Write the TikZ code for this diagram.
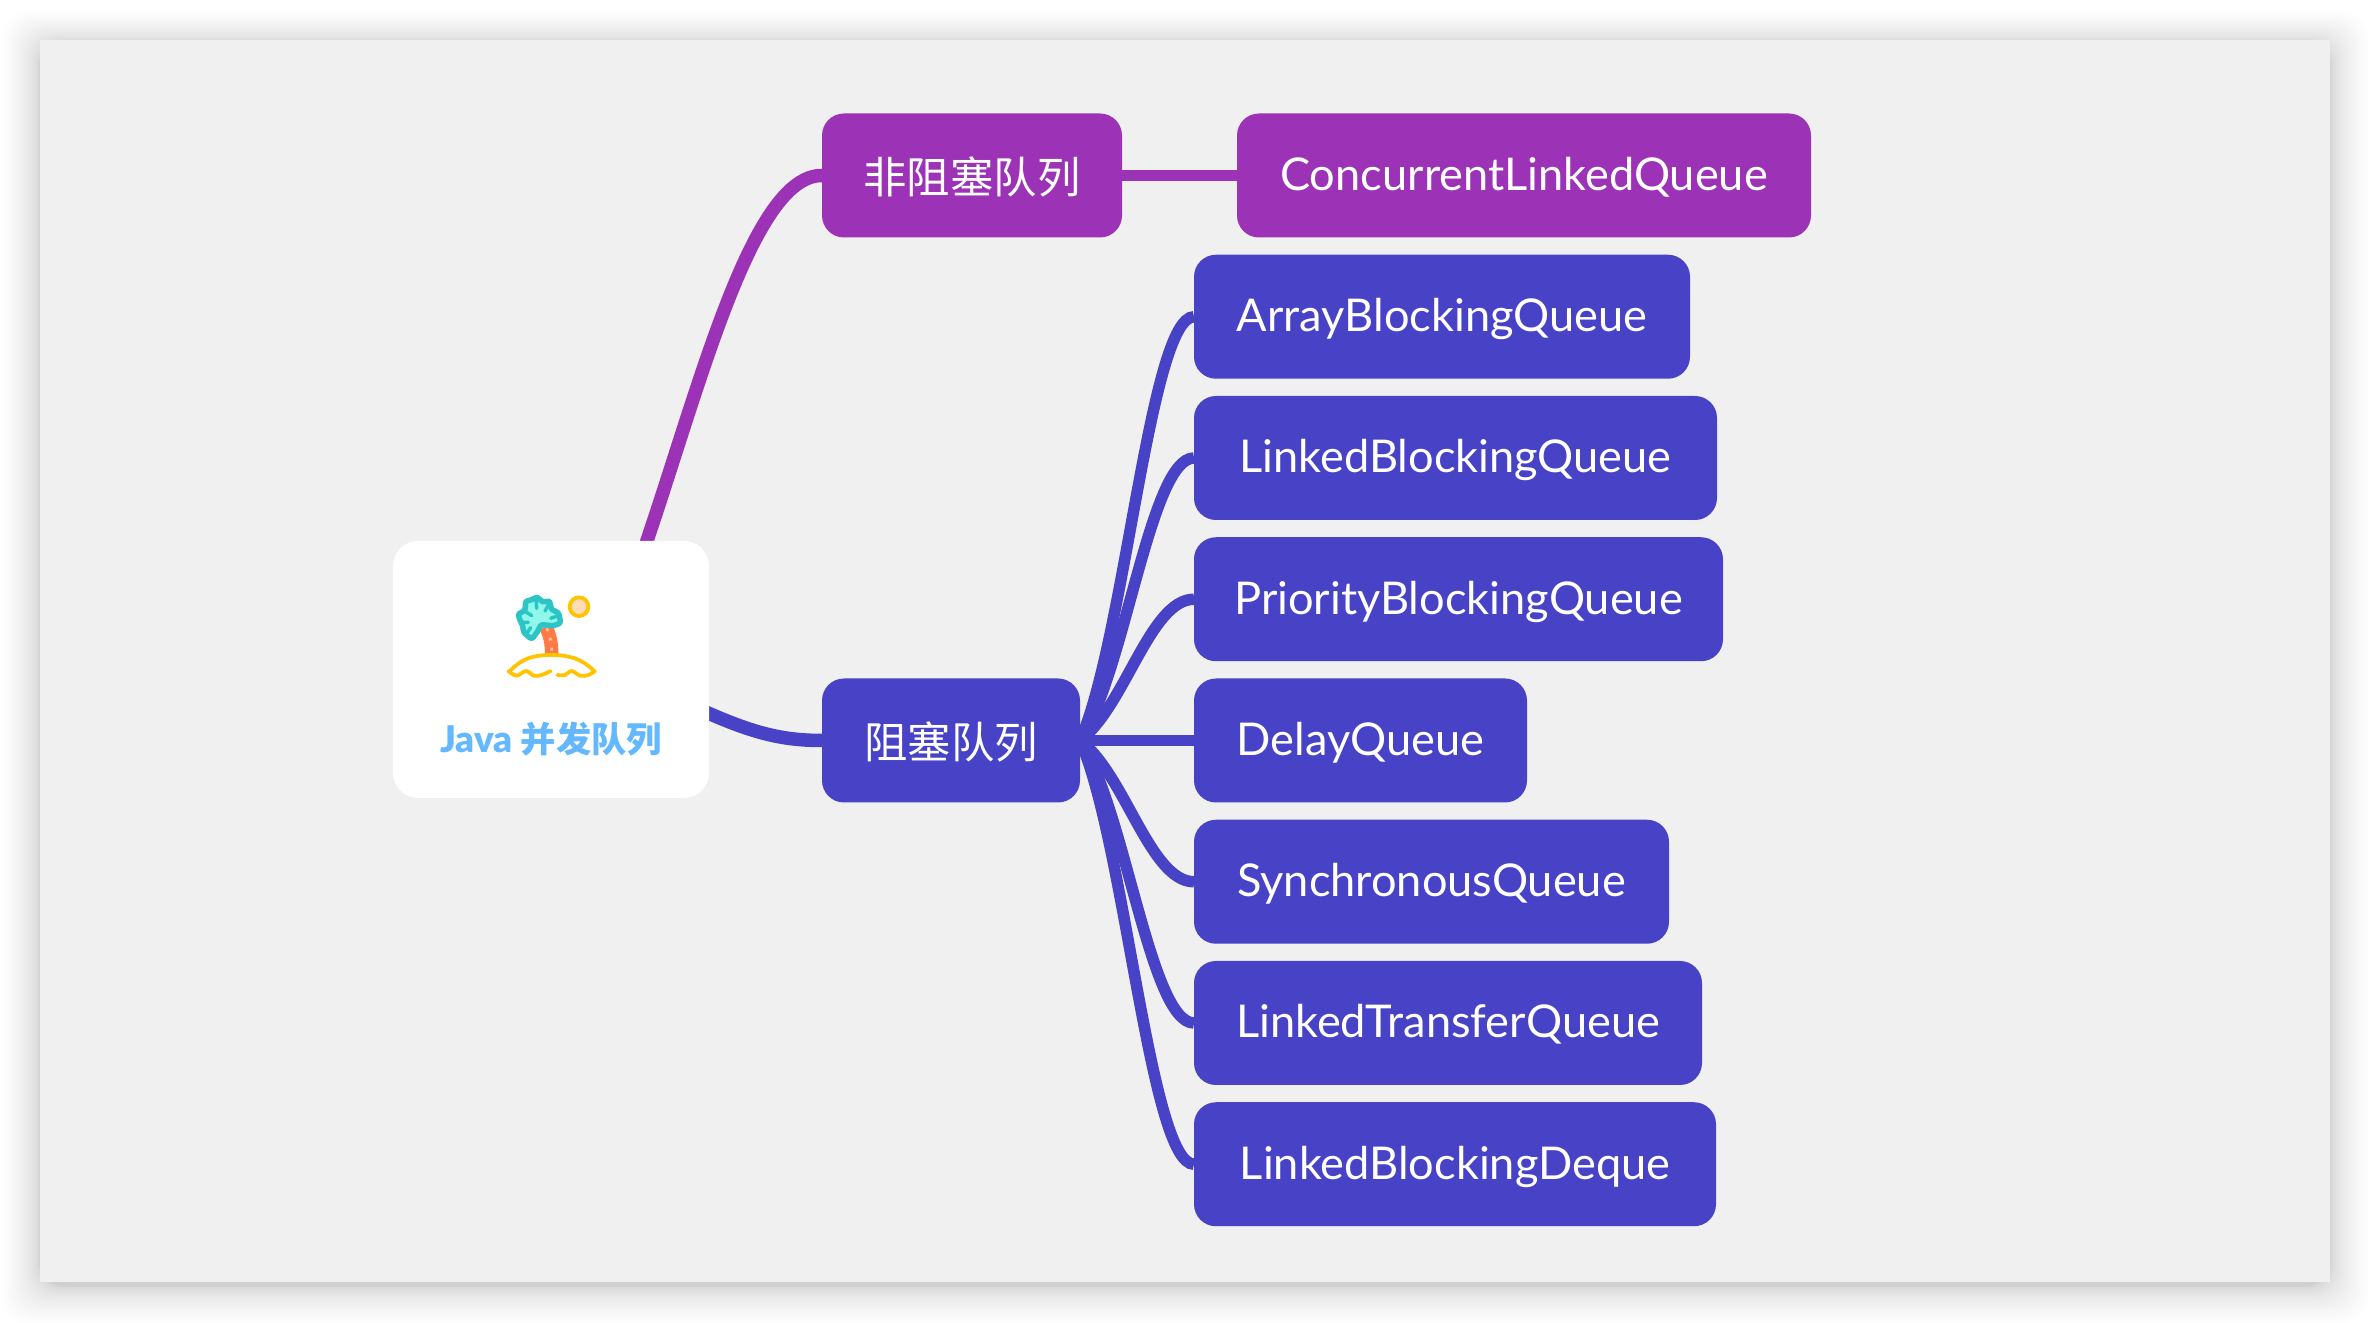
\documentclass[tikz,border=0pt]{standalone}
\usepackage{fontspec}
\setmainfont{Lato}[BoldFont={Lato Black}]
\newfontfamily\cjk[Scale=0.96]{Noto Sans CJK SC}
\usetikzlibrary{positioning,backgrounds,calc}
\usepackage{xcolor}
\definecolor{panelgray}{HTML}{F0F0F0}
\definecolor{plum}{HTML}{9C33B6}
\definecolor{indigo}{HTML}{4842C7}
\definecolor{skytext}{HTML}{64B8FF}
\definecolor{sunyellow}{HTML}{FFC300}
\definecolor{sunfill}{HTML}{FFDCB5}
\definecolor{palmteal}{HTML}{2CC4C4}
\definecolor{palmfill}{HTML}{8FF8EA}
\definecolor{trunkorange}{HTML}{FF7A45}
\definecolor{trunkdot}{HTML}{FFC9A8}
\newcommand{\cjklabel}[1]{\raisebox{-0.06cm}{\cjk #1}}

\begin{document}
\begin{tikzpicture}[
    rootbox/.style={fill=white, rounded corners=0.5cm, minimum width=6.32cm, minimum height=5.14cm, outer sep=0pt},
    roottitle/.style={text=skytext, font=\fontsize{20.9}{22}\selectfont\bfseries, inner sep=0pt},
    plumbox/.style={fill=plum, text=white, rounded corners=0.44cm, minimum height=2.48cm, inner sep=0pt, outer sep=0pt, text height=0.72cm, text depth=0.12cm, font=\fontsize{25.7}{30}\selectfont},
    indigobox/.style={fill=indigo, text=white, rounded corners=0.44cm, minimum height=2.48cm, inner sep=0pt, outer sep=0pt, text height=0.72cm, text depth=0.12cm, font=\fontsize{25.7}{30}\selectfont},
    plumlink/.style={draw=plum, line width=0.27cm},
    indigolink/.style={draw=indigo, line width=0.27cm},
    leaflink/.style={draw=indigo, line width=0.23cm}
]
\useasboundingbox (0,0) rectangle (47.4,26.44);

% Root
\node[rootbox] (root) at (11.02,13.05) {};
\node[roottitle] (title) at ([yshift=-1.39cm]root.center) {Java {\cjk 并发队列}};

% Branches
\node[indigobox, minimum width=5.16cm, anchor=west] (block) at ([shift={(2.26,-1.42)}]root.east) {\cjklabel{阻塞队列}};
\node[plumbox, minimum width=6cm, above=8.82cm of block.north west, anchor=south west] (nonblock) {\cjklabel{非阻塞队列}};
\node[plumbox, minimum width=11.48cm, right=2.3cm of nonblock] (concurrent) {ConcurrentLinkedQueue};

% Leaves
\node[indigobox, minimum width=6.66cm, right=2.28cm of block] (delay) {DelayQueue};
\node[indigobox, minimum width=10.58cm, above=0.345cm of delay.north west, anchor=south west] (priority) {PriorityBlockingQueue};
\node[indigobox, minimum width=10.46cm, above=0.345cm of priority.north west, anchor=south west] (linked) {LinkedBlockingQueue};
\node[indigobox, minimum width=9.92cm, above=0.345cm of linked.north west, anchor=south west] (array) {ArrayBlockingQueue};
\node[indigobox, minimum width=9.5cm, below=0.345cm of delay.south west, anchor=north west] (sync) {SynchronousQueue};
\node[indigobox, minimum width=10.16cm, below=0.345cm of sync.south west, anchor=north west] (transfer) {LinkedTransferQueue};
\node[indigobox, minimum width=10.44cm, below=0.345cm of transfer.south west, anchor=north west] (deque) {LinkedBlockingDeque};

\coordinate (roottop) at ([shift={(1.85,-0.2)}]root.north);
\coordinate (rootlow) at ([shift={(-0.2,-0.79)}]root.east);

\begin{scope}[on background layer]
% Panel and its shadow
\foreach \k in {1,...,24}
    \fill[black, opacity=0.0065, rounded corners=0.5cm] (0.8-0.0013*\k*\k,0.72-0.0013*\k*\k) rectangle (46.6+0.0013*\k*\k,25.58+0.0011*\k*\k);
\fill[panelgray] (0.8,0.8) rectangle (46.6,25.64);

% Links
\draw[plumlink] (roottop) .. controls (14,18.72) and (15.04,22.94) .. (nonblock.west);
\draw[indigolink] (rootlow) .. controls (15,11.8) and (15.6,11.63) .. (block.west);
\draw[plumlink, line width=0.23cm] (nonblock) -- (concurrent);
\draw[leaflink] (block) -- (delay);
\foreach \leaf/\rise in {array/2.02, linked/1.35, priority/0.67, sync/-0.67, transfer/-1.35, deque/-2.02}
    \draw[leaflink] (block.east) .. controls ([shift={(0.9,\rise)}]block.east) and ([xshift=-0.88cm]\leaf.west) .. (\leaf.west);
\end{scope}

% Palm island
\begin{scope}[shift={(10,14.74)}, x=0.00667cm, y=-0.00667cm]
\draw[trunkorange, line width=0.27cm] (137,125) .. controls (150,150) and (155,175) .. (155,208);
\draw[trunkdot, line width=0.05cm, dash pattern=on 0.06cm off 0.14cm] (140,130) .. controls (150,150) and (155,175) .. (155,205);
\draw[palmteal, fill=palmfill, line width=0.11cm, line join=round]
    plot[smooth cycle, tension=0.45] coordinates {(180,112) (175,85) (155,72) (148,50) (128,50) (112,38) (92,45) (78,50) (74,75) (56,88) (60,105) (68,122) (72,142) (95,160) (112,140) (125,120) (160,122)};
\draw[palmteal, line width=0.07cm, line cap=round] (148,55) -- (135,78) (108,42) -- (110,70) (74,78) -- (95,92) (62,112) -- (85,112) (78,148) -- (92,128) (176,92) -- (152,100);
\draw[sunyellow, fill=sunfill, line width=0.075cm] (237,65) circle (28);
\draw[sunyellow, line width=0.075cm, line cap=round] (30,258) .. controls (70,215) and (110,210) .. (155,210) .. controls (205,210) and (245,220) .. (282,258);
\draw[sunyellow, line width=0.075cm, line cap=round]
    plot[smooth, tension=0.6] coordinates {(25,258) (50,272) (78,258) (102,272) (125,270) (152,258)};
\draw[sunyellow, line width=0.075cm, line cap=round]
    plot[smooth, tension=0.6] coordinates {(172,270) (195,270) (215,258) (240,272) (265,270) (285,258)};
\end{scope}
\end{tikzpicture}
\end{document}
